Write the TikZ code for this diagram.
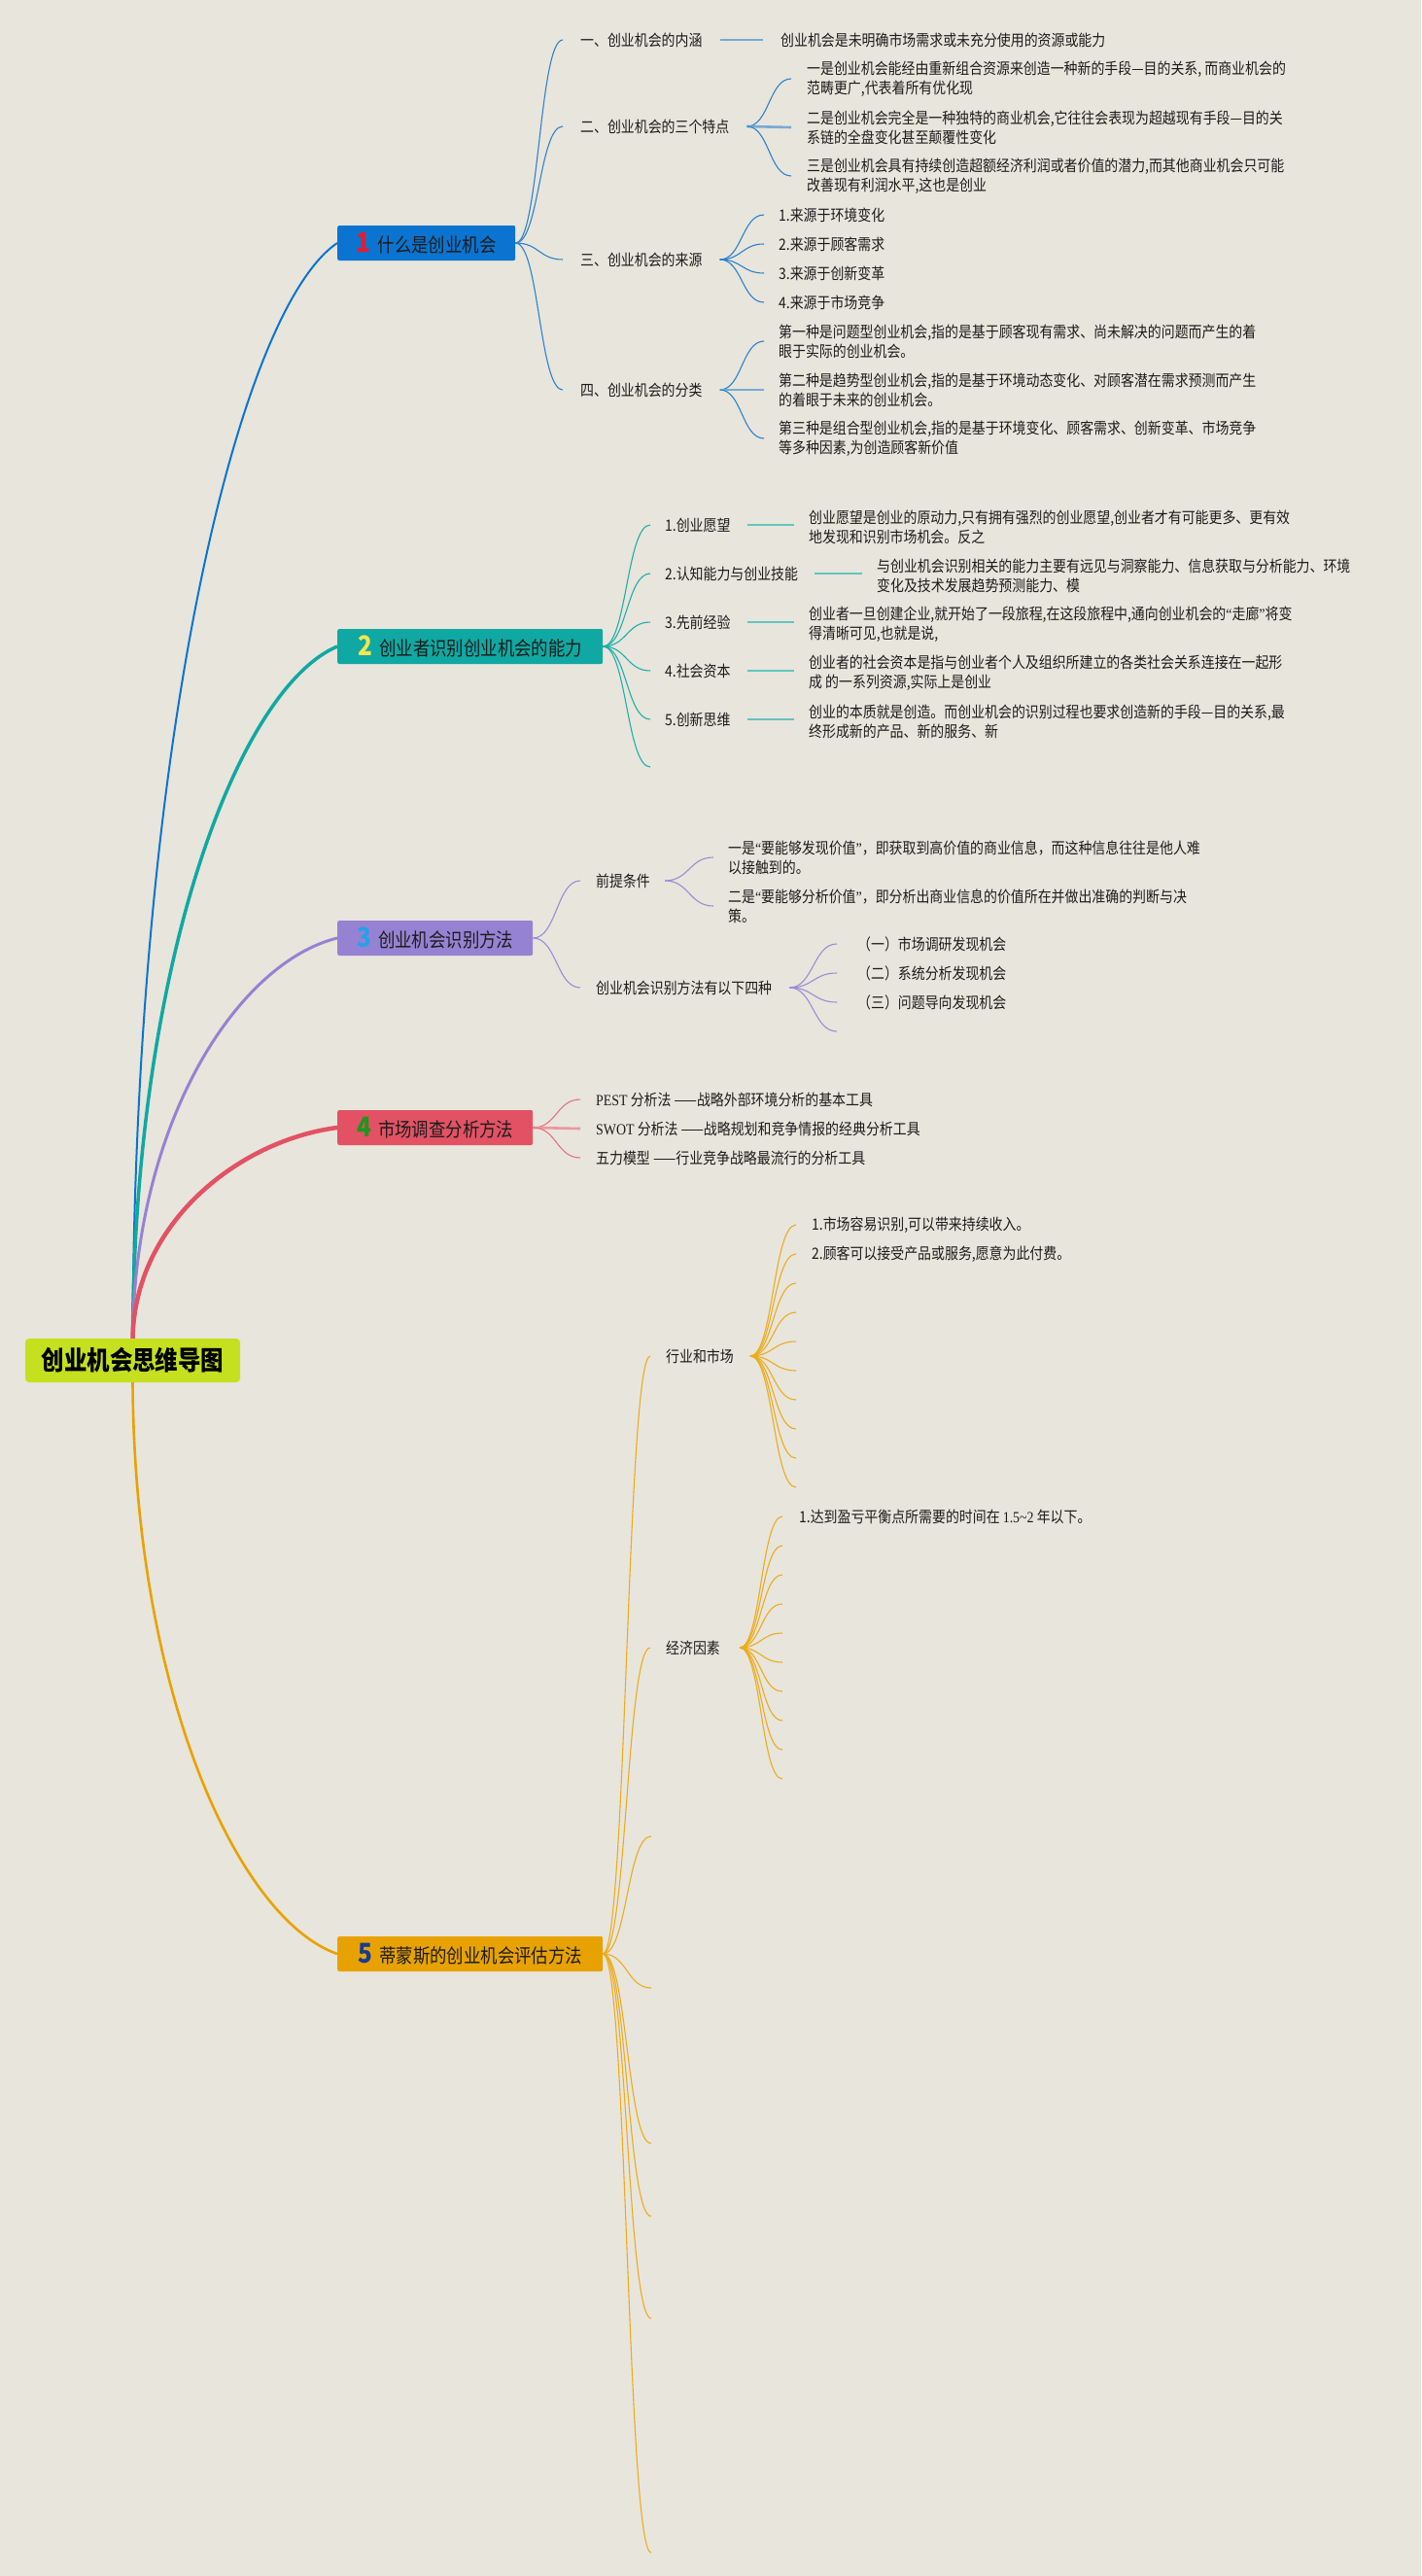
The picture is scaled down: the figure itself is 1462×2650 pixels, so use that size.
\documentclass[tikz,border=0pt]{standalone}
\usepackage{fontspec}
\setmainfont{Noto Sans CJK SC}[FakeStretch=0.87]
\newfontfamily\latfont{Liberation Serif}[FakeStretch=0.87]
\usetikzlibrary{calc}
\definecolor{bg}{RGB}{232,229,220}
\definecolor{txt}{RGB}{28,28,28}
\definecolor{rootc}{RGB}{196,224,30}
\definecolor{t1c}{RGB}{10,116,208}
\definecolor{t2c}{RGB}{16,168,162}
\definecolor{t3c}{RGB}{150,130,210}
\definecolor{t4c}{RGB}{226,82,100}
\definecolor{t5c}{RGB}{232,162,0}
\definecolor{n1c}{RGB}{222,30,50}
\definecolor{n2c}{RGB}{242,230,80}
\definecolor{n3c}{RGB}{40,160,232}
\definecolor{n4c}{RGB}{30,150,30}
\definecolor{n5c}{RGB}{20,60,150}
\definecolor{cb1}{RGB}{44,130,205}
\definecolor{cb2}{RGB}{30,175,170}
\definecolor{cb3}{RGB}{155,140,215}
\definecolor{cb4}{RGB}{228,115,130}
\definecolor{cb5}{RGB}{236,172,30}
\definecolor{hb1}{RGB}{120,170,212}
\definecolor{hb2}{RGB}{100,196,190}
\definecolor{hb3}{RGB}{180,170,226}
\definecolor{hb4}{RGB}{236,150,160}
\newcommand\fsleaf{\fontsize{16}{20}\selectfont}
\newcommand\fstopic{\fontsize{20}{24}\selectfont}
\newcommand\tnum[2]{{\color{#1}\bfseries\fontsize{28}{28}\selectfont #2}\hspace{7pt}}
\newcommand\myoq{{\latfont “}}
\newcommand\mycq{{\latfont ”}}
\newcommand\sconn[3]{\draw[#1] let \p1=(#2), \p2=(#3) in (\p1) .. controls ({0.5*\x1+0.5*\x2},\y1) and ({0.5*\x1+0.5*\x2},\y2) .. (\p2);}
\newcommand\mconn[3]{\draw[#1] let \p1=(#2), \p2=(#3) in (\p1) .. controls ({\x1+2pt},{\y1+0.55*(\y2-\y1)}) and ({\x1+110pt},{\y2-0.06*(\y2-\y1)}) .. (\p2);}
\tikzset{
  lbl/.style={anchor=west, inner sep=0pt, font=\fsleaf, text=txt, align=left},
  topic/.style={anchor=west, rounded corners=2pt, minimum height=36pt, inner sep=0pt, font=\fstopic, text=txt},
  rootbox/.style={fill=rootc, rounded corners=4pt, minimum width=221pt, minimum height=45pt, inner sep=0pt, font=\bfseries\fontsize{27}{30}\selectfont, text=black},
  l1/.style={draw=cb1, line width=1.1pt},
  l2/.style={draw=cb2, line width=1.1pt},
  l3/.style={draw=cb3, line width=1.1pt},
  l4/.style={draw=cb4, line width=1.1pt},
  l5/.style={draw=cb5, line width=1.1pt},
  h1/.style={draw=hb1, line width=2.6pt},
  h2/.style={draw=hb2, line width=2.6pt},
  h3/.style={draw=hb3, line width=2.6pt},
  h4/.style={draw=hb4, line width=2.6pt},
  m1/.style={draw=t1c, line width=2pt},
  m2/.style={draw=t2c, line width=3.5pt},
  m3/.style={draw=t3c, line width=3pt},
  m4/.style={draw=t4c, line width=4.5pt},
  m5/.style={draw=t5c, line width=2.6pt}
}
\begin{document}
\begin{tikzpicture}[x=1pt,y=-1pt]
\fill[bg] (0,0) rectangle (1462,2650);
\useasboundingbox (0,0) rectangle (1462,2650);

% root and topics
\node[rootbox] (root) at (136.5,1399.5) {创业机会思维导图};
\node[topic, fill=t1c, minimum width=183pt] (t1) at (347,250) {\tnum{n1c}{1}什么是创业机会};
\node[topic, fill=t2c, minimum width=273pt] (t2) at (347,665) {\tnum{n2c}{2}创业者识别创业机会的能力};
\node[topic, fill=t3c, minimum width=201pt] (t3) at (347,965) {\tnum{n3c}{3}创业机会识别方法};
\node[topic, fill=t4c, minimum width=201pt] (t4) at (347,1160) {\tnum{n4c}{4}市场调查分析方法};
\node[topic, fill=t5c, minimum width=273pt] (t5) at (347,2010) {\tnum{n5c}{5}蒂蒙斯的创业机会评估方法};

\mconn{m1}{root.north}{t1.west}
\mconn{m2}{root.north}{t2.west}
\mconn{m3}{root.north}{t3.west}
\mconn{m4}{root.north}{t4.west}
\mconn{m5}{root.south}{t5.west}

% ---------- branch 1
\node[lbl] (n11) at (597,41) {一、创业机会的内涵};
\node[lbl] (n11a) at (803,41) {创业机会是未明确市场需求或未充分使用的资源或能力};
\node[lbl] (n12) at (597,130) {二、创业机会的三个特点};
\node[lbl] (n12a) at (830,81) {一是创业机会能经由重新组合资源来创造一种新的手段—目的关系, 而商业机会的\\范畴更广,代表着所有优化现};
\node[lbl] (n12b) at (830,131) {二是创业机会完全是一种独特的商业机会,它往往会表现为超越现有手段—目的关\\系链的全盘变化甚至颠覆性变化};
\node[lbl] (n12c) at (830,181) {三是创业机会具有持续创造超额经济利润或者价值的潜力,而其他商业机会只可能\\改善现有利润水平,这也是创业};
\node[lbl] (n13) at (597,267) {三、创业机会的来源};
\node[lbl] (n13a) at (801,221) {1.来源于环境变化};
\node[lbl] (n13b) at (801,251) {2.来源于顾客需求};
\node[lbl] (n13c) at (801,281) {3.来源于创新变革};
\node[lbl] (n13d) at (801,311) {4.来源于市场竞争};
\node[lbl] (n14) at (597,401) {四、创业机会的分类};
\node[lbl] (n14a) at (801,351) {第一种是问题型创业机会,指的是基于顾客现有需求、尚未解决的问题而产生的着\\眼于实际的创业机会。};
\node[lbl] (n14b) at (801,401) {第二种是趋势型创业机会,指的是基于环境动态变化、对顾客潜在需求预测而产生\\的着眼于未来的创业机会。};
\node[lbl] (n14c) at (801,451) {第三种是组合型创业机会,指的是基于环境变化、顾客需求、创新变革、市场竞争\\等多种因素,为创造顾客新价值};

\sconn{l1}{t1.east}{[xshift=-18pt]n11.west}
\sconn{l1}{t1.east}{[xshift=-18pt]n12.west}
\sconn{l1}{t1.east}{[xshift=-18pt]n13.west}
\sconn{l1}{t1.east}{[xshift=-18pt]n14.west}
\draw[h1] ([xshift=18pt]n11.east) -- ([xshift=-18pt]n11a.west);
\sconn{l1}{[xshift=18pt]n12.east}{[xshift=-16pt]n12a.west}
\sconn{h1}{[xshift=18pt]n12.east}{[xshift=-16pt]n12b.west}
\sconn{l1}{[xshift=18pt]n12.east}{[xshift=-16pt]n12c.west}
\sconn{l1}{[xshift=18pt]n13.east}{[xshift=-15pt]n13a.west}
\sconn{l1}{[xshift=18pt]n13.east}{[xshift=-15pt]n13b.west}
\sconn{l1}{[xshift=18pt]n13.east}{[xshift=-15pt]n13c.west}
\sconn{l1}{[xshift=18pt]n13.east}{[xshift=-15pt]n13d.west}
\sconn{l1}{[xshift=18pt]n14.east}{[xshift=-15pt]n14a.west}
\sconn{h1}{[xshift=18pt]n14.east}{[xshift=-15pt]n14b.west}
\sconn{l1}{[xshift=18pt]n14.east}{[xshift=-15pt]n14c.west}

% ---------- branch 2
\node[lbl] (n21) at (684,540) {1.创业愿望};
\node[lbl] (n21a) at (832,542) {创业愿望是创业的原动力,只有拥有强烈的创业愿望,创业者才有可能更多、更有效\\地发现和识别市场机会。反之};
\node[lbl] (n22) at (684,590) {2.认知能力与创业技能};
\node[lbl] (n22a) at (902,592) {与创业机会识别相关的能力主要有远见与洞察能力、信息获取与分析能力、环境\\变化及技术发展趋势预测能力、模};
\node[lbl] (n23) at (684,640) {3.先前经验};
\node[lbl] (n23a) at (832,642) {创业者一旦创建企业,就开始了一段旅程,在这段旅程中,通向创业机会的\myoq 走廊\mycq 将变\\得清晰可见,也就是说,};
\node[lbl] (n24) at (684,690) {4.社会资本};
\node[lbl] (n24a) at (832,692) {创业者的社会资本是指与创业者个人及组织所建立的各类社会关系连接在一起形\\成 的一系列资源,实际上是创业};
\node[lbl] (n25) at (684,740) {5.创新思维};
\node[lbl] (n25a) at (832,742) {创业的本质就是创造。而创业机会的识别过程也要求创造新的手段—目的关系,最\\终形成新的产品、新的服务、新};
\coordinate (e26) at (669,789);

\sconn{l2}{t2.east}{[xshift=-15pt]n21.west}
\sconn{l2}{t2.east}{[xshift=-15pt]n22.west}
\sconn{l2}{t2.east}{[xshift=-15pt]n23.west}
\sconn{l2}{t2.east}{[xshift=-15pt]n24.west}
\sconn{l2}{t2.east}{[xshift=-15pt]n25.west}
\sconn{l2}{t2.east}{e26}
\draw[h2] ([xshift=17pt]n21.east) -- ([xshift=-15pt]n21.east -| n21a.west);
\draw[h2] ([xshift=17pt]n22.east) -- ([xshift=-15pt]n22.east -| n22a.west);
\draw[h2] ([xshift=17pt]n23.east) -- ([xshift=-15pt]n23.east -| n23a.west);
\draw[h2] ([xshift=17pt]n24.east) -- ([xshift=-15pt]n24.east -| n24a.west);
\draw[h2] ([xshift=17pt]n25.east) -- ([xshift=-15pt]n25.east -| n25a.west);

% ---------- branch 3
\node[lbl] (n31) at (613,906) {前提条件};
\node[lbl] (n31a) at (749,882) {一是\myoq 要能够发现价值\mycq，即获取到高价值的商业信息，而这种信息往往是他人难\\以接触到的。};
\node[lbl] (n31b) at (749,932) {二是\myoq 要能够分析价值\mycq，即分析出商业信息的价值所在并做出准确的判断与决\\策。};
\node[lbl] (n32) at (613,1016) {创业机会识别方法有以下四种};
\node[lbl] (n32a) at (882,971) {（一）市场调研发现机会};
\node[lbl] (n32b) at (882,1001) {（二）系统分析发现机会};
\node[lbl] (n32c) at (882,1031) {（三）问题导向发现机会};
\coordinate (e32d) at (861,1061);

\sconn{l3}{t3.east}{[xshift=-16pt]n31.west}
\sconn{l3}{t3.east}{[xshift=-16pt]n32.west}
\sconn{l3}{[xshift=15pt]n31.east}{[xshift=-15pt]n31a.west}
\sconn{l3}{[xshift=15pt]n31.east}{[xshift=-15pt]n31b.west}
\sconn{l3}{[xshift=18pt]n32.east}{[xshift=-21pt]n32a.west}
\sconn{l3}{[xshift=18pt]n32.east}{[xshift=-21pt]n32b.west}
\sconn{l3}{[xshift=18pt]n32.east}{[xshift=-21pt]n32c.west}
\sconn{l3}{[xshift=18pt]n32.east}{e32d}

% ---------- branch 4
\node[lbl] (n41) at (613,1131) {{\latfont PEST} 分析法 ——战略外部环境分析的基本工具};
\node[lbl] (n42) at (613,1161) {{\latfont SWOT} 分析法 ——战略规划和竞争情报的经典分析工具};
\node[lbl] (n43) at (613,1191) {五力模型 ——行业竞争战略最流行的分析工具};
\sconn{l4}{t4.east}{[xshift=-16pt]n41.west}
\sconn{h4}{t4.east}{[xshift=-16pt]n42.west}
\sconn{l4}{t4.east}{[xshift=-16pt]n43.west}

% ---------- branch 5
\node[lbl] (n51) at (685,1395) {行业和市场};
\node[lbl] (n52) at (685,1695) {经济因素};
\coordinate (e53) at (670,1889);
\coordinate (e54) at (670,2045);
\coordinate (e55) at (670,2205);
\coordinate (e56) at (670,2280);
\coordinate (e57) at (670,2385);
\coordinate (e58) at (670,2626);
\sconn{l5}{t5.east}{[xshift=-16pt]n51.west}
\sconn{l5}{t5.east}{[xshift=-16pt]n52.west}
\sconn{l5}{t5.east}{e53}
\sconn{l5}{t5.east}{e54}
\sconn{l5}{t5.east}{e55}
\sconn{l5}{t5.east}{e56}
\sconn{l5}{t5.east}{e57}
\sconn{l5}{t5.east}{e58}

\foreach \k in {0,...,9} {
  \coordinate (p51\k) at (819,{1260+30*\k});
  \coordinate (p52\k) at (805,{1560+30*\k});
}
\foreach \k in {0,...,9} {
  \sconn{l5}{[xshift=17pt]n51.east}{p51\k}
  \sconn{l5}{[xshift=20pt]n52.east}{p52\k}
}
\node[lbl] (n51a) at ([xshift=16pt]p510) {1.市场容易识别,可以带来持续收入。};
\node[lbl] (n51b) at ([xshift=16pt]p511) {2.顾客可以接受产品或服务,愿意为此付费。};
\node[lbl] (n52a) at ([xshift=17pt]p520) {1.达到盈亏平衡点所需要的时间在 {\latfont 1.5\textasciitilde 2} 年以下。};
\end{tikzpicture}
\end{document}
